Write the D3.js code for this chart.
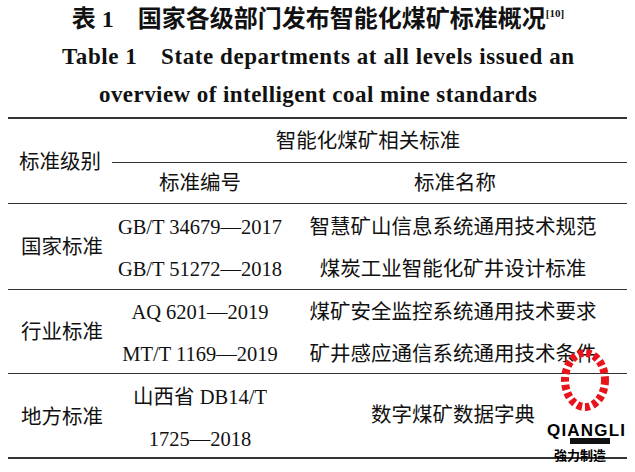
<!DOCTYPE html>
<html><head><meta charset="utf-8">
<script src="https://cdn.jsdelivr.net/npm/d3@7"></script>
<style>body{margin:0;background:#fff}</style>
</head><body>
<script>
const W = 635, H = 472;
const titles = ['表 1　国家各级部门发布智能化煤矿标准概况', 'Table 1　State departments at all levels issued an', 'overview of intelligent coal mine standards'];
const levels = ['国家标准', '行业标准', '地方标准'];
const codes = [['GB/T 34679—2017', 'GB/T 51272—2018'], ['AQ 6201—2019', 'MT/T 1169—2019'], ['山西省 DB14/T', '1725—2018']];
const names = [['智慧矿山信息系统通用技术规范', '煤炭工业智能化矿井设计标准'], ['煤矿安全监控系统通用技术要求', '矿井感应通信系统通用技术条件'], ['数字煤矿数据字典']];

const font = '"Liberation Serif","Noto Sans CJK SC",serif';
const svg = d3.select('body').append('svg').attr('width', W).attr('height', H);

// row bands for the three groups
const y = d3.scaleBand().domain(levels).range([203, 458]);

const t = svg.append('g').attr('font-family', font).attr('text-anchor', 'middle').attr('fill', '#111');
const t1 = t.append('text').attr('x', 318).attr('y', 27).attr('font-size', 24).attr('font-weight', 'bold');
t1.append('tspan').text(titles[0]);
t1.append('tspan').attr('font-size', 11).attr('dy', -10).text('[10]');
t.append('text').attr('x', 318).attr('y', 64).attr('font-size', 23).attr('font-weight', 'bold').attr('textLength', 512).text(titles[1]);
t.append('text').attr('x', 318).attr('y', 102).attr('font-size', 23).attr('font-weight', 'bold').attr('textLength', 438).text(titles[2]);

const rules = [[8, 627, 118, 2], [112, 627, 162, 1], [8, 627, 203, 1], [8, 627, 289, 1], [8, 627, 373, 1], [8, 627, 458, 2]];
svg.selectAll('line.r').data(rules).join('line')
  .attr('x1', d => d[0]).attr('x2', d => d[1]).attr('y1', d => d[3] > 1 ? d[2] : d[2] + 0.5).attr('y2', d => d[3] > 1 ? d[2] : d[2] + 0.5)
  .attr('stroke', '#333').attr('stroke-width', d => d[3]);

const b = svg.append('g').attr('font-family', font).attr('font-size', 20.5).attr('text-anchor', 'middle').attr('fill', '#111');
b.append('text').attr('x', 368).attr('y', 148).text('智能化煤矿相关标准');
b.append('text').attr('x', 60).attr('y', 169).text('标准级别');
b.append('text').attr('x', 200).attr('y', 190).text('标准编号');
b.append('text').attr('x', 455).attr('y', 190).text('标准名称');

levels.forEach((lv, i) => {
  const y0 = y(lv), bw = y.bandwidth();
  b.append('text').attr('x', 62).attr('y', y0 + bw / 2 + 8).text(lv);
  codes[i].forEach((c, j) => b.append('text').attr('x', 200).attr('y', y0 + bw * (j === 0 ? 0.27 : 0.76) + 8).text(c));
  names[i].forEach((n, j) => b.append('text').attr('x', 453)
    .attr('y', names[i].length === 1 ? y0 + bw / 2 + 6 : y0 + bw * (j === 0 ? 0.27 : 0.76) + 8).text(n));
});

// watermark logo
const lg = svg.append('g');
lg.append('ellipse').attr('cx', 585).attr('cy', 380).attr('rx', 20).attr('ry', 27).attr('fill', 'none').attr('stroke', '#e8141c').attr('stroke-width', 8).attr('stroke-dasharray', '5 3');
lg.append('text').attr('x', 586).attr('y', 436).attr('text-anchor', 'middle').attr('font-family', 'Liberation Sans').attr('font-weight', 'bold').attr('font-size', 17).attr('textLength', 78).text('QIANGLI');
lg.append('rect').attr('x', 570).attr('y', 438).attr('width', 40).attr('height', 6).attr('fill', '#111');
lg.append('text').attr('x', 580).attr('y', 460).attr('text-anchor', 'middle').attr('font-family', '"Noto Sans CJK SC"').attr('font-weight', 'bold').attr('font-size', 13).text('強力制造');
</script>
</body></html>
